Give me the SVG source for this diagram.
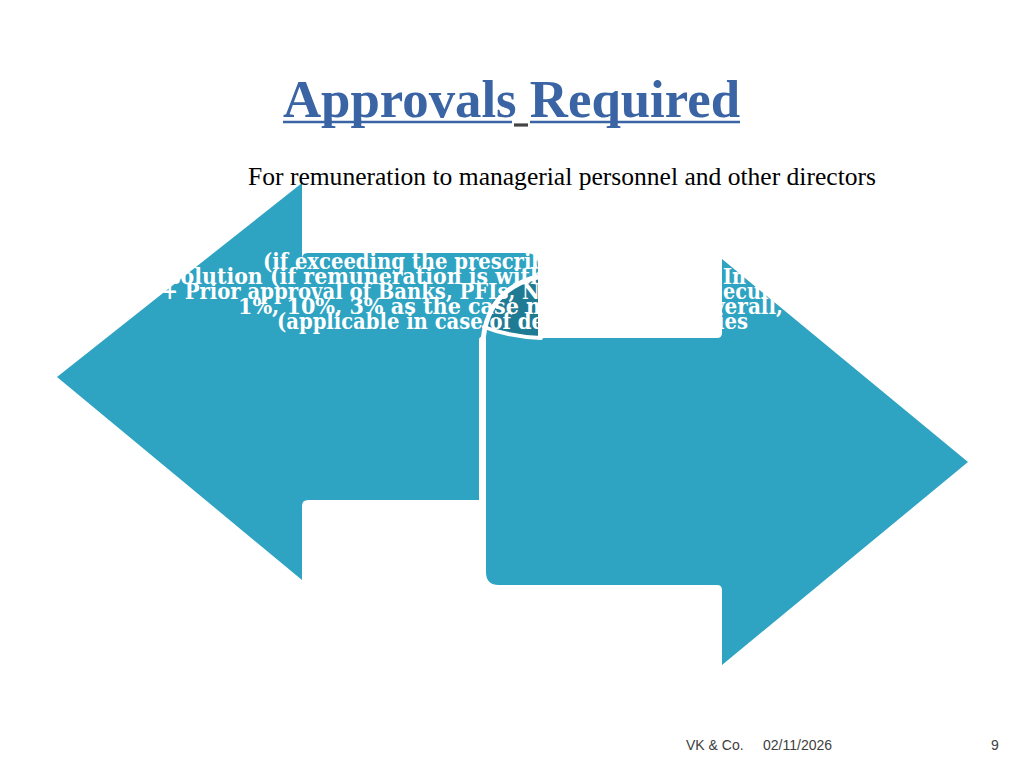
<svg xmlns="http://www.w3.org/2000/svg" width="1024" height="768" viewBox="0 0 1024 768">
  <style>
    .arrow { fill: #2ea3c2; }
    .roll { fill: #1f7a93; }
    .edge { fill: none; stroke: #ffffff; stroke-linecap: round; }
    .title { font-family: "Liberation Serif", "Times New Roman", serif; font-weight: bold; font-size: 53px; fill: #3a64a4; }
    .sub { font-family: "Liberation Serif", "Times New Roman", serif; font-size: 24.5px; fill: #000000; }
    .body { font-family: "DejaVu Serif", "Liberation Serif", serif; font-weight: bold; font-size: 22px; fill: #ffffff; }
    .foot { font-family: "Liberation Sans", Arial, sans-serif; font-size: 14px; fill: #404040; }
  </style>
  <rect width="1024" height="768" fill="#ffffff"/>

  <g id="title">
    <text class="title" x="283" y="117" textLength="457" lengthAdjust="spacingAndGlyphs">Approvals Required</text>
    <line x1="283" y1="122" x2="512" y2="122" stroke="#3a64a4" stroke-width="2.6"/>
    <line x1="514" y1="125" x2="528" y2="125" stroke="#444444" stroke-width="3.2"/>
    <line x1="530" y1="122" x2="740" y2="122" stroke="#3a64a4" stroke-width="2.6"/>
  </g>

  <g id="arrow-left">
    <path class="arrow" d="M57,377 L302,183 L302,259 Q302,253 308,253 L526,253 Q538,253 538,265 L538,500 L308,500 Q302,500 302,506 L302,580 Z"/>
  </g>

  <g id="arrow-right">
    <path class="arrow" d="M486,330 L486,572 Q486,585 499,585 L717,585 Q722,585 722,590 L722,665 L968,462 L722,259 L722,333 Q722,338 717,338 L540,338 C518,337 500,333 486,330 Z"/>
    <path class="roll" d="M486,330 L486,318 C488,300 506,285 538,278 L538,337 C518,336 500,333 486,330 Z"/>
    <path class="edge" stroke-width="7" d="M482.5,503 L482.5,340"/>
    <path class="edge" stroke-width="5" d="M482.5,352 C482.5,306 505,284 541,276"/>
    <path class="edge" stroke-width="4" d="M484,327 C502,334 520,337 541,338"/>
  </g>

  <g id="subtitle">
    <text class="sub" x="248" y="185" textLength="628" lengthAdjust="spacingAndGlyphs">For remuneration to managerial personnel and other directors</text>
  </g>

  <g id="body-text">
    <text class="body" x="263" y="269" textLength="282" lengthAdjust="spacingAndGlyphs">(if exceeding the prescrib</text>
    <text class="body" x="156" y="284" textLength="389" lengthAdjust="spacingAndGlyphs">esolution (if  remuneration is with</text>
    <text class="body" x="723" y="284" textLength="23" lengthAdjust="spacingAndGlyphs">In</text>
    <text class="body" x="143" y="299" textLength="397" lengthAdjust="spacingAndGlyphs">x + Prior approval of Banks, PFIs, N</text>
    <text class="body" x="723" y="299" textLength="48" lengthAdjust="spacingAndGlyphs">ecur</text>
    <text class="body" x="238" y="314" textLength="310" lengthAdjust="spacingAndGlyphs">1%, 10%, 3% as the case m</text>
    <text class="body" x="713" y="314" textLength="70" lengthAdjust="spacingAndGlyphs">verall,</text>
    <text class="body" x="277" y="329" textLength="267" lengthAdjust="spacingAndGlyphs">(applicable in  case of de</text>
    <text class="body" x="717" y="329" textLength="31" lengthAdjust="spacingAndGlyphs">ies</text>
  </g>

  <g id="footer">
    <text class="foot" x="686" y="750">VK &amp; Co.</text>
    <text class="foot" x="763" y="750">02/11/2026</text>
    <text class="foot" x="991" y="750">9</text>
  </g>
</svg>
